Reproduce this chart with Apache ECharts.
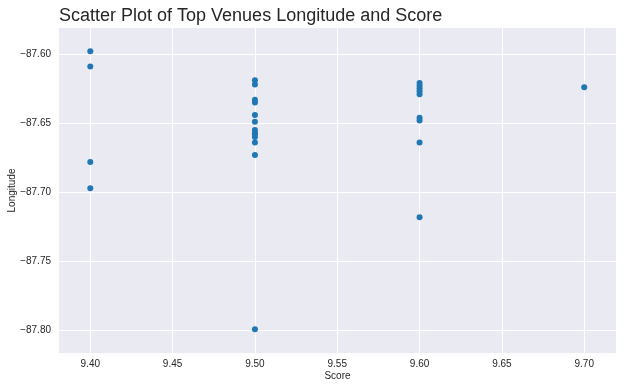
<!DOCTYPE html>
<html>
<head>
<meta charset="utf-8">
<script src="https://cdn.jsdelivr.net/npm/echarts@6/dist/echarts.min.js"></script>
<style>
html,body{margin:0;padding:0;background:#fff;}
#chart{width:626px;height:389px;}
</style>
</head>
<body>
<div id="chart"></div>
<script>
// Data
const scores = [
  9.4, 9.4, 9.4, 9.4,
  9.5, 9.5, 9.5, 9.5, 9.5, 9.5, 9.5, 9.5, 9.5, 9.5, 9.5, 9.5, 9.5,
  9.6, 9.6, 9.6, 9.6, 9.6, 9.6, 9.6, 9.6, 9.6,
  9.7
];
const longitudes = [
  -87.598, -87.609, -87.678, -87.697,
  -87.619, -87.622, -87.633, -87.635, -87.644, -87.649, -87.655, -87.657, -87.658, -87.660, -87.664, -87.673, -87.799,
  -87.621, -87.623, -87.625, -87.627, -87.629, -87.646, -87.648, -87.664, -87.718,
  -87.624
];
const xTicks = [9.40, 9.45, 9.50, 9.55, 9.60, 9.65, 9.70];
const yTicks = [-87.80, -87.75, -87.70, -87.65, -87.60];

const points = scores.map((s, i) => [s, longitudes[i]]);
const fontFam = '"Liberation Sans", Arial, sans-serif';
const textColor = '#262626';

const chart = echarts.init(document.getElementById('chart'), null, {renderer: 'canvas'});
chart.setOption({
  backgroundColor: '#ffffff',
  animation: false,
  title: {
    text: 'Scatter Plot of Top Venues Longitude and Score',
    left: 54,
    top: 2,
    textStyle: {fontFamily: fontFam, fontSize: 18, fontWeight: 'normal', color: textColor}
  },
  grid: {left: 59, top: 28, right: 10, bottom: 36, containLabel: false, outerBoundsMode: 'none',
         show: true, backgroundColor: '#EAEAF2', borderWidth: 0},
  xAxis: {
    type: 'value',
    min: 9.381, max: 9.7193,
    name: 'Score', nameLocation: 'middle', nameGap: 18, nameMoveOverlap: false,
    nameTextStyle: {fontFamily: fontFam, fontSize: 10, color: textColor},
    axisLine: {show: false},
    axisTick: {show: false, customValues: xTicks},
    axisLabel: {customValues: xTicks, fontFamily: fontFam, fontSize: 10, color: textColor, margin: 6,
                formatter: v => v.toFixed(2)},
    splitLine: {show: true, lineStyle: {color: '#ffffff', width: 1}}
  },
  yAxis: {
    type: 'value',
    min: -87.8161, max: -87.5812,
    name: 'Longitude', nameLocation: 'middle', nameGap: 42, nameRotate: 90, nameMoveOverlap: false,
    nameTextStyle: {fontFamily: fontFam, fontSize: 10, color: textColor},
    axisLine: {show: false},
    axisTick: {show: false, customValues: yTicks},
    axisLabel: {customValues: yTicks, fontFamily: fontFam, fontSize: 10, color: textColor, margin: 8,
                formatter: v => v.toFixed(2).replace('-', '\u2212')},
    splitLine: {show: true, lineStyle: {color: '#ffffff', width: 1}}
  },
  series: [{
    type: 'scatter',
    data: points,
    symbolSize: 6,
    itemStyle: {color: '#1f77b4', opacity: 1},
    emphasis: {disabled: true}
  }]
});
</script>
</body>
</html>
